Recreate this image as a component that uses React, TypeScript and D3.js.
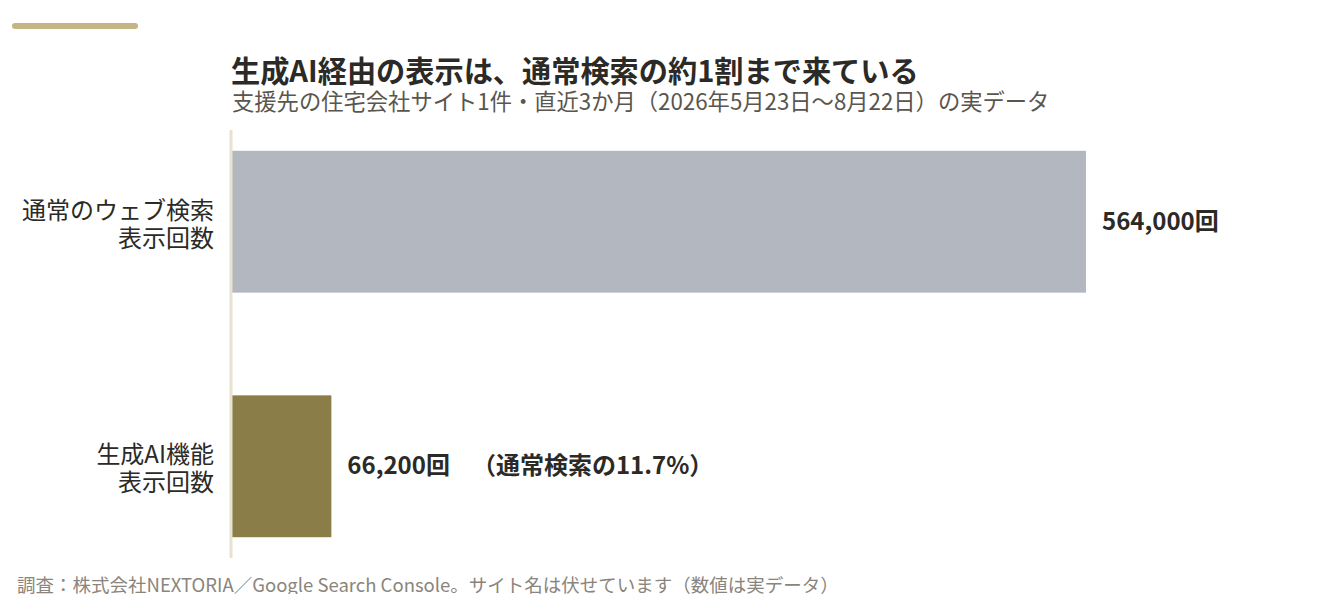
import React, { useEffect, useRef } from "react";
import * as d3 from "d3";

const categories = ["通常のウェブ検索\n表示回数", "生成AI機能\n表示回数"];
const values = [564000, 66200];
const valueLabels = ["564,000回", "66,200回"];
const noteLabels = ["", "（通常検索の11.7%）"];
const barColors = ["#b3b7c0", "#8b7d47"];

const title = "生成AI経由の表示は、通常検索の約1割まで来ている";
const subtitle = "支援先の住宅会社サイト1件・直近3か月（2026年5月23日〜8月22日）の実データ";
const footer = "調査：株式会社NEXTORIA／Google Search Console。サイト名は伏せています（数値は実データ）";

const W = 1344;
const H = 602;
const FONT = "'Noto Sans CJK JP', 'Noto Sans', sans-serif";

function App() {
  const svgRef = useRef<SVGSVGElement | null>(null);

  useEffect(() => {
    drawChart();
  }, []);

  const drawChart = () => {
    const svg = d3.select(svgRef.current);
    svg.selectAll("*").remove();

    const xScale = d3.scaleLinear().domain([0, 564000]).range([231, 1086]);
    const yScale = d3
      .scaleBand()
      .domain(categories)
      .range([130, 558])
      .paddingInner(0.42)
      .paddingOuter(0.085);

    // accent bar
    svg
      .append("rect")
      .attr("x", 12)
      .attr("y", 23)
      .attr("width", 126)
      .attr("height", 6)
      .attr("rx", 3)
      .attr("fill", "#c4b583");

    svg
      .append("text")
      .attr("x", 231)
      .attr("y", 82)
      .attr("font-family", FONT)
      .attr("font-size", 29.2)
      .attr("font-weight", 700)
      .attr("fill", "#2b2a26")
      .text(title);

    svg
      .append("text")
      .attr("x", 232)
      .attr("y", 110)
      .attr("font-family", FONT)
      .attr("font-size", 22.3)
      .attr("fill", "#5a554d")
      .text(subtitle);

    const g = svg.append("g");

    g.selectAll(".bar")
      .data(values)
      .enter()
      .append("rect")
      .attr("class", "bar")
      .attr("x", xScale(0))
      .attr("y", (_, i) => yScale(categories[i]) as number)
      .attr("width", (d) => xScale(d) - xScale(0))
      .attr("height", yScale.bandwidth())
      .attr("fill", (_, i) => barColors[i]);

    // axis line
    g.append("line")
      .attr("x1", xScale(0))
      .attr("x2", xScale(0))
      .attr("y1", 130)
      .attr("y2", 558)
      .attr("stroke", "#e8e2d0")
      .attr("stroke-width", 3);

    // category labels
    categories.forEach((c) => {
      const cy = (yScale(c) as number) + yScale.bandwidth() / 2;
      const lines = c.split("\n");
      const t = g
        .append("text")
        .attr("text-anchor", "end")
        .attr("font-family", FONT)
        .attr("font-size", 24)
        .attr("fill", "#2b2a26");
      lines.forEach((l, j) => {
        t.append("tspan")
          .attr("x", 214)
          .attr("y", cy - 3 + j * 28)
          .text(l);
      });
    });

    // value labels
    values.forEach((v, i) => {
      const cy = (yScale(categories[i]) as number) + yScale.bandwidth() / 2;
      const t = g
        .append("text")
        .attr("x", xScale(v) + 16)
        .attr("y", cy + 8)
        .attr("font-family", FONT)
        .attr("font-size", 24)
        .attr("font-weight", 700)
        .attr("fill", "#2b2a26");
      t.append("tspan").text(valueLabels[i]);
      if (noteLabels[i]) {
        t.append("tspan").attr("dx", 22).text(noteLabels[i]);
      }
    });

    svg
      .append("text")
      .attr("x", 17)
      .attr("y", 592)
      .attr("font-family", FONT)
      .attr("font-size", 18.5)
      .attr("fill", "#8a857c")
      .text(footer);
  };

  return (
    <div>
      <svg ref={svgRef} width={W} height={H} style={{ display: "block", margin: -8 }} />
    </div>
  );
}

export default App;
